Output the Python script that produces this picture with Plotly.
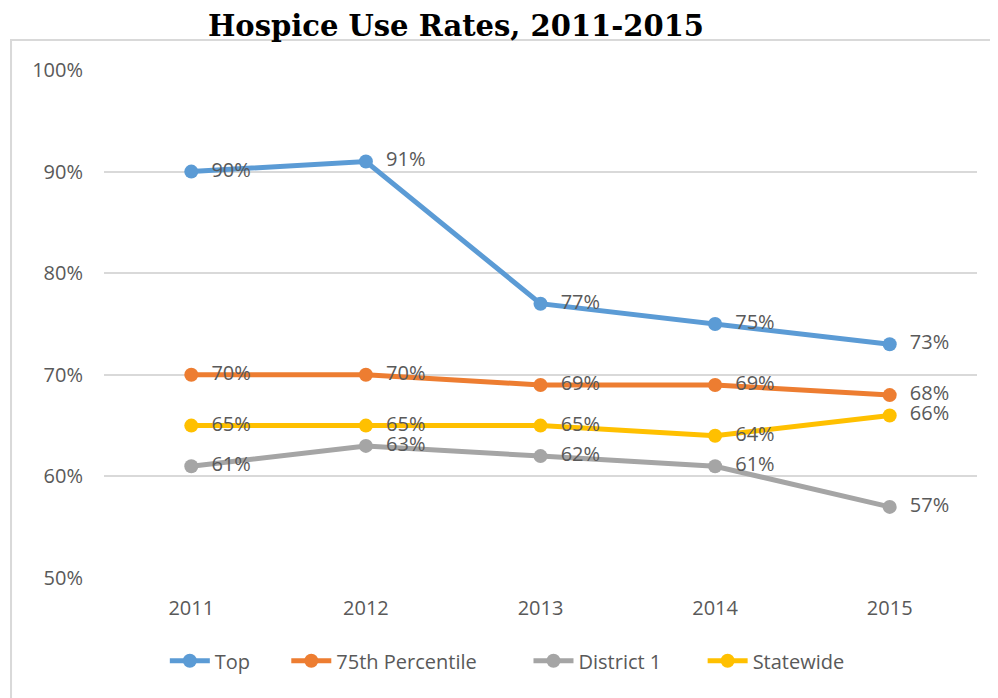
import plotly.graph_objects as go

years = ["2011", "2012", "2013", "2014", "2015"]
series_names = ["Top", "75th Percentile", "District 1", "Statewide"]
top = [90, 91, 77, 75, 73]
p75 = [70, 70, 69, 69, 68]
district1 = [61, 63, 62, 61, 57]
statewide = [65, 65, 65, 64, 66]
y_ticks = [50, 60, 70, 80, 90, 100]
y_tick_labels = ["50%", "60%", "70%", "80%", "90%", "100%"]

colors = ["#5B9BD5", "#ED7D31", "#A5A5A5", "#FFC000"]
values = [top, p75, district1, statewide]
legend_pad = [6, 9, 7, 0]

FONT = "Open Sans"
TXT = "#595959"

fig = go.Figure()
for name, vals, col, pad in zip(series_names, values, colors, legend_pad):
    fig.add_trace(go.Scatter(
        x=years, y=vals, name=name + "\u00a0" * pad, mode="lines+markers+text",
        line=dict(color=col, width=5),
        marker=dict(color=col, size=14),
        text=[f"\u00a0\u00a0{v}%" for v in vals],
        textposition="middle right",
        textfont=dict(family=FONT, size=20, color=TXT),
        cliponaxis=False,
    ))

fig.update_layout(
    width=990, height=690,
    margin=dict(l=96, r=21, t=62, b=120),
    paper_bgcolor="white", plot_bgcolor="white",
    title=dict(text="<b>Hospice Use Rates, 2011-2015</b>",
               font=dict(family="DejaVu Serif", size=29, color="black"),
               x=0.4525, xanchor="center", y=0.974, yanchor="middle"),
    showlegend=True,
    legend=dict(orientation="h", x=0.462, xanchor="center", y=-0.163, yanchor="middle",
                font=dict(family=FONT, size=20, color=TXT), itemwidth=40,
                traceorder="normal"),
    xaxis=dict(type="category", range=[-0.5, 4.5], showgrid=False, showline=False,
               zeroline=False, ticks="", tickfont=dict(family=FONT, size=20, color=TXT),
               ticklabelstandoff=16),
    yaxis=dict(range=[50, 100], tickvals=y_ticks, ticktext=y_tick_labels,
               showgrid=True, gridcolor="#D9D9D9", gridwidth=2, zeroline=False,
               showline=False, ticks="", tickfont=dict(family=FONT, size=20, color=TXT),
               ticklabelstandoff=20),
    shapes=[dict(type="rect", xref="paper", yref="paper",
                 x0=-0.1065, x1=1.1, y0=-0.4, y1=1.059,
                 line=dict(color="#D9D9D9", width=2), fillcolor="rgba(0,0,0,0)",
                 layer="below")],
)

fig.write_html("out.html")
